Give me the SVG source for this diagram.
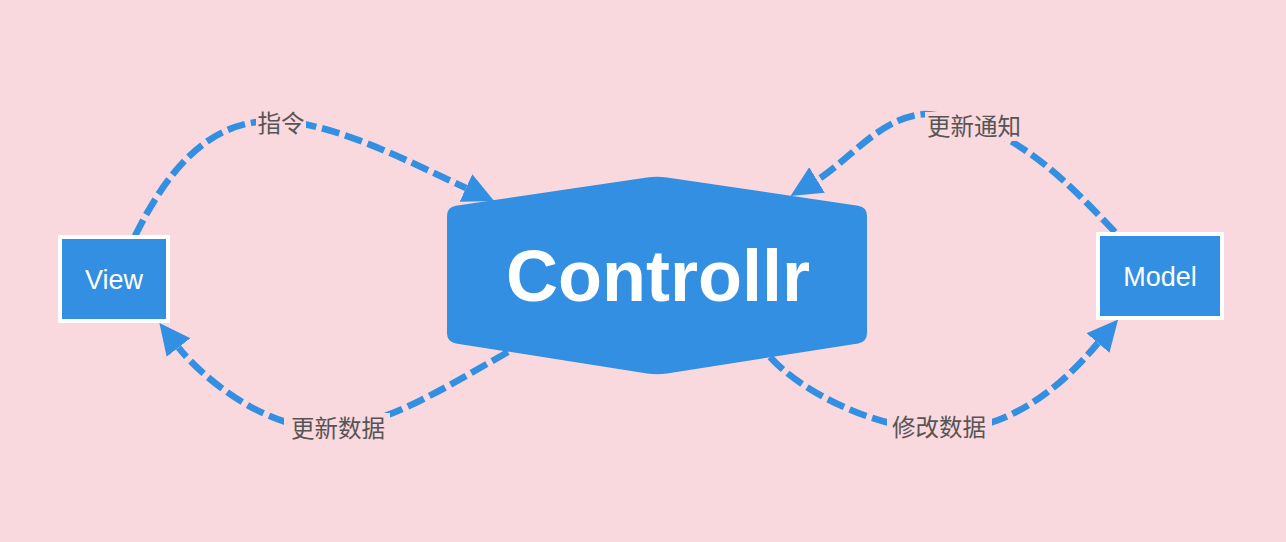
<svg xmlns="http://www.w3.org/2000/svg" width="1286" height="542" viewBox="0 0 1286 542">
  <style>
    .edge { fill: none; stroke: #328fe2; stroke-width: 6.6; stroke-dasharray: 18 6; marker-end: url(#arrow); }
    .lblbg { fill: #f9d8de; }
    .lbl { font-family: "Noto Sans CJK SC", "Noto Sans", sans-serif; font-size: 23.5px; fill: #555555; text-anchor: middle; }
    .box { fill: #328fe2; stroke: #ffffff; stroke-width: 4; }
    .boxtxt { font-family: "Liberation Sans", Arial, sans-serif; font-size: 27px; fill: #ffffff; text-anchor: middle; }
    .main { fill: #328fe2; }
    .maintxt { font-family: "Liberation Sans", Arial, sans-serif; font-size: 72px; font-weight: bold; fill: #ffffff; text-anchor: middle; }
  </style>
  <defs>
    <marker id="arrow" viewBox="0 0 31 30" refX="0" refY="15" markerWidth="31" markerHeight="30" markerUnits="userSpaceOnUse" orient="auto">
      <path d="M0,0 L31,15 L0,30 Z" fill="#328fe2"/>
    </marker>
  </defs>
  <rect x="0" y="0" width="1286" height="542" fill="#f9d8de"/>

  <g id="connectors">
    <g id="edge-view-controllr">
      <path class="edge" d="M135,236 C165,175 205,122 270,121 C330,120 405,160 466,188"/>
      <rect class="lblbg" x="256" y="110" width="50" height="27"/>
      <text class="lbl" x="281" y="132">指令</text>
    </g>
    <g id="edge-model-controllr">
      <path class="edge" d="M1115,232 C1065,180 1010,120 925,114 C880,117 850,160 817,180"/>
      <rect class="lblbg" x="925" y="112" width="98" height="29"/>
      <text class="lbl" x="974" y="135">更新通知</text>
    </g>
    <g id="edge-controllr-view">
      <path class="edge" d="M508,352 C440,390 380,430 320,428 C260,426 200,375 178.5,347.5"/>
      <rect class="lblbg" x="284" y="413" width="106" height="31"/>
      <text class="lbl" x="338" y="437">更新数据</text>
    </g>
    <g id="edge-controllr-model">
      <path class="edge" d="M770,357 C805,395 880,430 940,430 C1020,432 1075,370 1098,343"/>
      <rect class="lblbg" x="887" y="412" width="105" height="31"/>
      <text class="lbl" x="939" y="436">修改数据</text>
    </g>
  </g>

  <g id="node-view">
    <rect class="box" x="60" y="237" width="108" height="84"/>
    <text class="boxtxt" x="114" y="289">View</text>
  </g>

  <g id="node-model">
    <rect class="box" x="1098" y="234" width="124" height="84"/>
    <text class="boxtxt" x="1160" y="286">Model</text>
  </g>

  <g id="node-controllr">
    <path class="main" d="M455.9,205.7 L647.1,177.5 Q657,176 666.9,177.5 L858.1,205.7 Q867,207 867,216 L867,333 Q867,342 858.1,343.4 L666.9,373.4 Q657,375 647.1,373.4 L455.9,343.4 Q447,342 447,333 L447,216 Q447,207 455.9,205.7 Z"/>
    <text class="maintxt" x="658" y="301">Controllr</text>
  </g>
</svg>
